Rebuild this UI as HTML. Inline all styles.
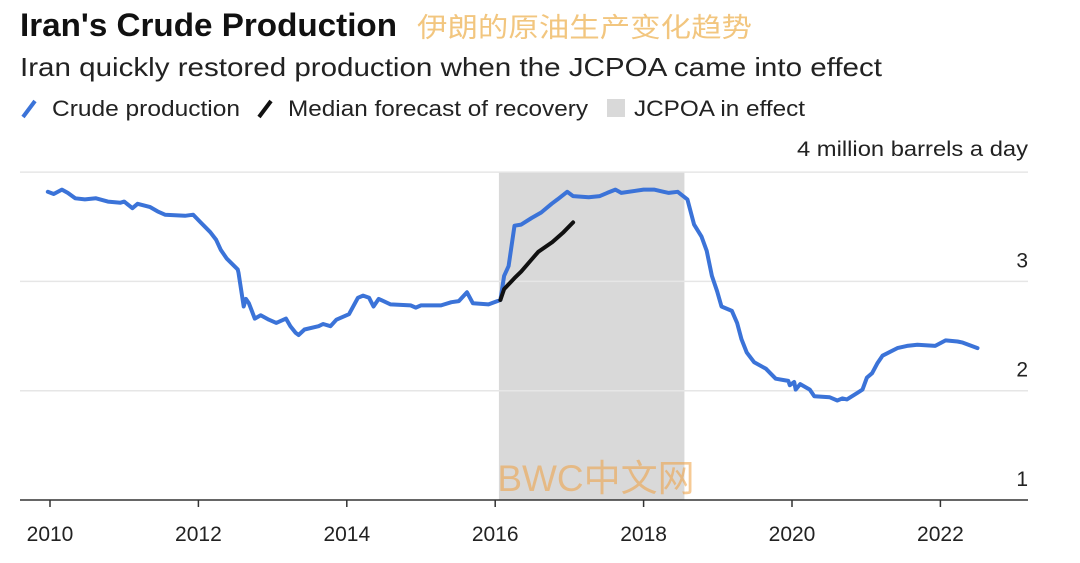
<!DOCTYPE html>
<html><head><meta charset="utf-8"><style>
body{margin:0;background:#fff;width:1080px;height:563px;overflow:hidden;font-family:"Liberation Sans","Noto Sans CJK SC",sans-serif}
svg{position:absolute;left:0;top:0}
</style></head><body>
<svg width="1080" height="563">
<text x="20" y="36" font-size="32" font-weight="bold" fill="#111" textLength="377" lengthAdjust="spacingAndGlyphs">Iran's Crude Production</text>
<text x="417" y="37" font-size="27" fill="#f0b860" opacity="0.8" textLength="335" lengthAdjust="spacingAndGlyphs">伊朗的原油生产变化趋势</text>
<text x="20" y="76" font-size="26" fill="#222" textLength="862" lengthAdjust="spacingAndGlyphs">Iran quickly restored production when the JCPOA came into effect</text>
<g>
<line x1="23" y1="117" x2="35" y2="101" stroke="#3b73d8" stroke-width="4"/>
<text x="52" y="116" font-size="22" fill="#222" textLength="188" lengthAdjust="spacingAndGlyphs">Crude production</text>
<line x1="259" y1="117" x2="271" y2="101" stroke="#111" stroke-width="4"/>
<text x="288" y="116" font-size="22" fill="#222" textLength="300" lengthAdjust="spacingAndGlyphs">Median forecast of recovery</text>
<rect x="607" y="99" width="18" height="18" fill="#d9d9d9"/>
<text x="634" y="116" font-size="22" fill="#222" textLength="171" lengthAdjust="spacingAndGlyphs">JCPOA in effect</text>
</g>
<g id="plot"></g>
<text x="1028" y="156" font-size="21" fill="#222" text-anchor="end" textLength="231" lengthAdjust="spacingAndGlyphs">4 million barrels a day</text>
<text x="596" y="491" font-size="37" fill="#f0a040" opacity="0.55" text-anchor="middle">BWC中文网</text>
</svg>
<script>
const crudeDates=[2009.97,2010.05,2010.16,2010.24,2010.34,2010.47,2010.62,2010.78,2010.95,2011.00,2011.11,2011.18,2011.35,2011.45,2011.55,2011.82,2011.93,2012.03,2012.16,2012.24,2012.30,2012.38,2012.53,2012.54,2012.61,2012.64,2012.68,2012.76,2012.84,2012.95,2013.05,2013.18,2013.24,2013.31,2013.35,2013.43,2013.62,2013.68,2013.78,2013.86,2014.03,2014.15,2014.22,2014.30,2014.36,2014.43,2014.59,2014.86,2014.93,2015.00,2015.27,2015.41,2015.51,2015.62,2015.70,2015.91,2016.07,2016.12,2016.18,2016.26,2016.35,2016.49,2016.62,2016.76,2016.84,2016.97,2017.05,2017.26,2017.41,2017.51,2017.62,2017.70,2018.00,2018.14,2018.27,2018.34,2018.46,2018.59,2018.68,2018.78,2018.85,2018.92,2018.99,2019.05,2019.19,2019.26,2019.32,2019.39,2019.49,2019.65,2019.78,2019.95,2019.97,2020.03,2020.05,2020.11,2020.24,2020.30,2020.51,2020.61,2020.68,2020.74,2020.88,2020.95,2021.01,2021.08,2021.15,2021.22,2021.42,2021.55,2021.69,2021.93,2022.07,2022.23,2022.30,2022.50];
const crudeValues=[3.82,3.80,3.84,3.81,3.76,3.75,3.76,3.73,3.72,3.73,3.67,3.71,3.68,3.64,3.61,3.60,3.61,3.54,3.45,3.38,3.29,3.21,3.11,3.08,2.77,2.84,2.80,2.66,2.69,2.65,2.62,2.66,2.59,2.53,2.51,2.56,2.59,2.61,2.59,2.65,2.70,2.85,2.87,2.85,2.77,2.84,2.79,2.78,2.76,2.78,2.78,2.81,2.82,2.90,2.80,2.79,2.83,3.05,3.14,3.51,3.52,3.58,3.63,3.71,3.75,3.82,3.78,3.77,3.78,3.81,3.84,3.81,3.84,3.84,3.82,3.81,3.82,3.75,3.52,3.41,3.28,3.05,2.91,2.77,2.73,2.62,2.47,2.35,2.26,2.20,2.11,2.09,2.05,2.08,2.01,2.06,2.01,1.95,1.94,1.91,1.93,1.92,1.98,2.01,2.12,2.16,2.25,2.32,2.39,2.41,2.42,2.41,2.46,2.45,2.44,2.39];
const forecastDates=[2016.07,2016.12,2016.19,2016.26,2016.35,2016.49,2016.58,2016.77,2016.92,2017.05];
const forecastValues=[2.83,2.93,2.98,3.03,3.09,3.20,3.27,3.36,3.45,3.54];
const jcpoaRange=[2016.05,2018.55];
const yTicks=[1,2,3];
const xTicks=[2010,2012,2014,2016,2018,2020,2022];
const NS="http://www.w3.org/2000/svg";
const X=t=>50+(t-2010)*74.2;
const Y=v=>500-(v-1)*109.3;
const g=document.getElementById('plot');
function mk(tag,attrs){const e=document.createElementNS(NS,tag);for(const k in attrs)e.setAttribute(k,attrs[k]);g.appendChild(e);return e;}
const sh=mk('rect',{x:X(jcpoaRange[0]),y:Y(4),width:X(jcpoaRange[1])-X(jcpoaRange[0]),height:Y(1)-Y(4),fill:'#d9d9d9'});


[4,3,2].forEach(v=>{const l=mk('line',{x1:20,x2:1028,y1:Y(v),y2:Y(v),stroke:'#e6e6e6','stroke-width':1.5});

});
yTicks.forEach(v=>{const t=mk('text',{x:1028,y:Y(v)-14,'font-size':21,fill:'#222','text-anchor':'end'});t.textContent=v;

});
const ax=mk('line',{x1:20,x2:1028,y1:Y(1),y2:Y(1),stroke:'#333','stroke-width':1.5});


xTicks.forEach(yr=>{const tk=mk('line',{x1:X(yr),x2:X(yr),y1:Y(1),y2:Y(1)+7,stroke:'#333','stroke-width':1.5});


const t=mk('text',{x:X(yr),y:541,'font-size':21,fill:'#222','text-anchor':'middle'});t.textContent=yr;

});
function path(ds,vs){return ds.map((d,i)=>(i?'L':'M')+X(d).toFixed(1)+','+Y(vs[i]).toFixed(1)).join('');}
const cl=mk('path',{d:path(crudeDates,crudeValues),fill:'none',stroke:'#3b73d8','stroke-width':4,'stroke-linejoin':'round','stroke-linecap':'round'});


const fl=mk('path',{d:path(forecastDates,forecastValues),fill:'none',stroke:'#111','stroke-width':4,'stroke-linejoin':'round','stroke-linecap':'round'});


</script>
</body></html>
